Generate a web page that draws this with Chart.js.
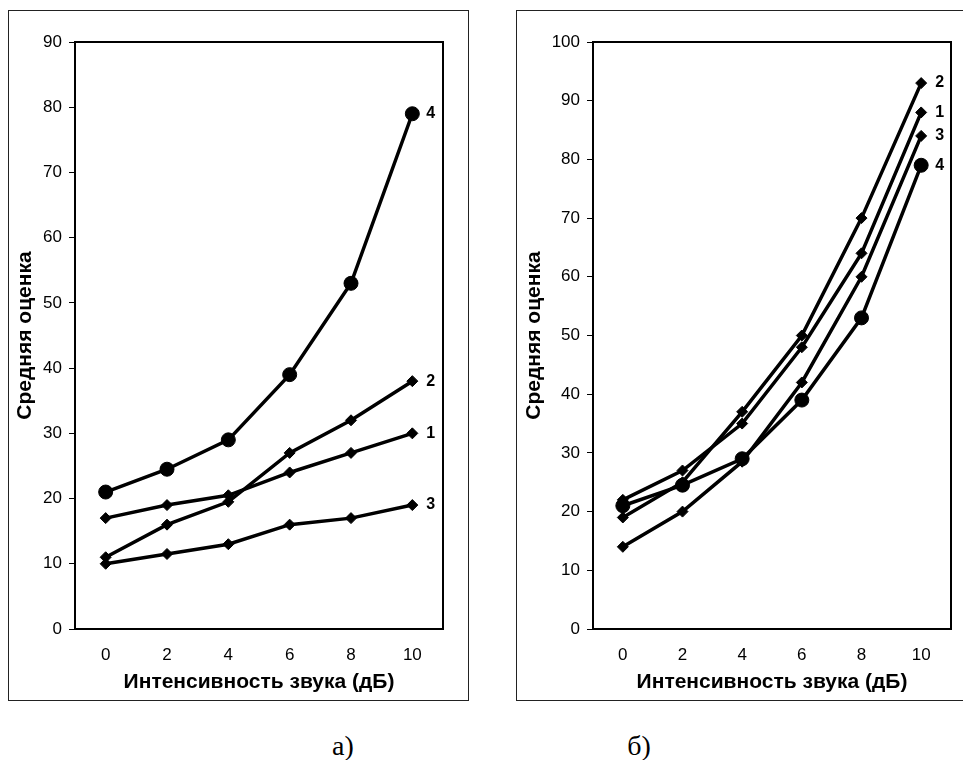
<!DOCTYPE html>
<html>
<head>
<meta charset="utf-8">
<script src="https://cdn.jsdelivr.net/npm/chart.js@4"></script>
<style>
body { margin:0; background:#fff; width:963px; height:760px; position:relative; overflow:hidden; }
.box { position:absolute; top:10px; height:689px; border:1px solid #222; }
#boxA { left:8px; width:459px; }
#boxB { left:516px; width:470px; }
canvas { position:absolute; top:0; }
.cap { position:absolute; top:732px; line-height:28px; font-family:"Liberation Serif", "Times New Roman", serif; font-size:28px; transform:translateX(-50%); }
</style>
</head>
<body>
<div class="box" id="boxA"></div>
<div class="box" id="boxB"></div>
<canvas id="chartA" width="480" height="720" style="left:0"></canvas>
<canvas id="chartB" width="483" height="720" style="left:480px"></canvas>
<div class="cap" style="left:343px">а)</div>
<div class="cap" style="left:639px">б)</div>
<script>
"use strict"
// x categories (дБ)
const levels = ["0", "2", "4", "6", "8", "10"];

// chart а)
const a1 = [17, 19, 20.5, 24, 27, 30];
const a2 = [11, 16, 19.5, 27, 32, 38];
const a3 = [10, 11.5, 13, 16, 17, 19];
const a4 = [21, 24.5, 29, 39, 53, 79];

// chart б)
const b1 = [22, 27, 35, 48, 64, 88];
const b2 = [19, 25, 37, 50, 70, 93];
const b3 = [14, 20, 28.5, 42, 60, 84];
const b4 = [21, 24.5, 29, 39, 53, 79];

const font = "'Liberation Sans', Arial, sans-serif";
Chart.defaults.font.family = font;
Chart.defaults.color = "#000";

// frame round the plot area + number at the end of each line
const plotFrame = {
    id: "plotFrame",
    beforeDatasetsDraw(chart) {
        const a = chart.chartArea;
        const ctx = chart.ctx;
        ctx.save();
        ctx.strokeStyle = "#000";
        ctx.lineWidth = 2;
        ctx.strokeRect(a.left, a.top, a.right - a.left, a.bottom - a.top);
        ctx.restore();
    },
    afterDatasetsDraw(chart) {
        const ctx = chart.ctx;
        ctx.save();
        ctx.fillStyle = "#000";
        ctx.font = "bold 16px " + font;
        ctx.textAlign = "left";
        ctx.textBaseline = "middle";
        chart.data.datasets.forEach((ds, i) => {
            const pts = chart.getDatasetMeta(i).data;
            const last = pts[pts.length - 1];
            ctx.fillText(ds.label, last.x + 14, last.y);
        });
        ctx.restore();
    }
};

function series(label, data, circle) {
    return {
        label: label,
        data: data,
        borderColor: "#000",
        backgroundColor: "#000",
        borderWidth: 3.5,
        pointStyle: circle ? "circle" : "rectRot",
        pointRadius: circle ? 7 : 5.5,
        pointBorderWidth: 1,
        pointBackgroundColor: "#000",
        pointBorderColor: "#000",
        tension: 0
    };
}

function makeChart(id, sets, yMax, pad, yWidth, yTitlePad) {
    return new Chart(document.getElementById(id), {
        type: "line",
        data: { labels: levels, datasets: sets },
        plugins: [plotFrame],
        options: {
            responsive: false,
            animation: false,
            layout: { padding: pad },
            plugins: { legend: { display: false }, tooltip: { enabled: false } },
            scales: {
                x: {
                    type: "category",
                    offset: true,
                    ticks: { font: { size: 17 }, padding: 16, maxRotation: 0 },
                    grid: { display: false, drawTicks: false },
                    border: { display: true, color: "#000", width: 2 },
                    title: {
                        display: true,
                        text: "Интенсивность звука (дБ)",
                        font: { size: 21, weight: "bold" },
                        padding: { top: 0, bottom: 25 }
                    },
                    afterFit(scale) { scale.height = 91; }
                },
                y: {
                    min: 0,
                    max: yMax,
                    ticks: { stepSize: 10, font: { size: 17 }, padding: 7 },
                    grid: { drawOnChartArea: false, tickLength: 6, color: "#000", lineWidth: 1 },
                    border: { display: true, color: "#000", width: 2 },
                    title: {
                        display: true,
                        text: "Средняя оценка",
                        font: { size: 21, weight: "bold" },
                        padding: { top: yTitlePad, bottom: 0 }
                    },
                    afterFit(scale) { scale.width = yWidth; }
                }
            }
        }
    });
}

makeChart("chartA",
    [series("1", a1), series("2", a2), series("3", a3), series("4", a4, true)],
    90, { left: 0, top: 42, right: 37, bottom: 0 }, 75, 13);

makeChart("chartB",
    [series("1", b1), series("2", b2), series("3", b3), series("4", b4, true)],
    100, { left: 0, top: 42, right: 12, bottom: 0 }, 113, 42);
</script>
</body>
</html>
